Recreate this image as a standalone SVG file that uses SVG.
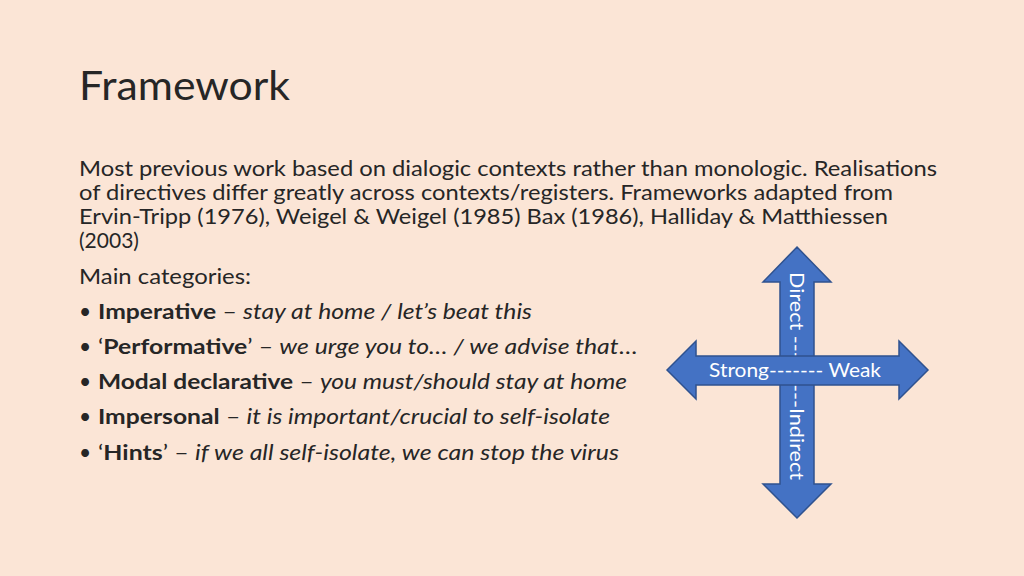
<svg xmlns="http://www.w3.org/2000/svg" width="1024" height="576" viewBox="0 0 1024 576">
<style>
text{font-family:Lato,"Open Sans",sans-serif;fill:#262626}
.b{font-size:21px}
.w{fill:#fff;font-size:19px}
.ar{fill:#4472c4;stroke:#2f528f;stroke-width:1.5}
</style>
<rect width="1024" height="576" fill="#fbe5d6"/>
<text x="79" y="100" font-size="40" fill="#404040" textLength="211" lengthAdjust="spacingAndGlyphs">Framework</text>
<g class="b">
<text x="79" y="176" class="b" textLength="858" lengthAdjust="spacingAndGlyphs">Most previous work based on dialogic contexts rather than monologic. Realisations</text>
<text x="79" y="200" class="b" textLength="814" lengthAdjust="spacingAndGlyphs">of directives differ greatly across contexts/registers. Frameworks adapted from</text>
<text x="79" y="224" class="b" textLength="809" lengthAdjust="spacingAndGlyphs">Ervin-Tripp (1976), Weigel &amp; Weigel (1985) Bax (1986), Halliday &amp; Matthiessen</text>
<text x="79" y="248" class="b">(2003)</text>
<text x="79" y="284" class="b" textLength="172" lengthAdjust="spacingAndGlyphs">Main categories:</text>
<text x="79" y="319" class="b">•</text>
<text x="98" y="319" class="b" textLength="434" lengthAdjust="spacingAndGlyphs"><tspan font-weight="bold">Imperative</tspan> – <tspan font-style="italic">stay at home / let’s beat this</tspan></text>
<text x="79" y="354" class="b">•</text>
<text x="98" y="354" class="b" textLength="539" lengthAdjust="spacingAndGlyphs">‘<tspan font-weight="bold">Performative</tspan>’ – <tspan font-style="italic">we urge you to… / we advise that</tspan>…</text>
<text x="79" y="389" class="b">•</text>
<text x="98" y="389" class="b" textLength="529" lengthAdjust="spacingAndGlyphs"><tspan font-weight="bold">Modal declarative</tspan> – <tspan font-style="italic">you must/should stay at home</tspan></text>
<text x="79" y="424" class="b">•</text>
<text x="98" y="424" class="b" textLength="512" lengthAdjust="spacingAndGlyphs"><tspan font-weight="bold">Impersonal</tspan> – <tspan font-style="italic">it is important/crucial to self-isolate</tspan></text>
<text x="79" y="460" class="b">•</text>
<text x="98" y="460" class="b" textLength="521" lengthAdjust="spacingAndGlyphs">‘<tspan font-weight="bold">Hints</tspan>’ – <tspan font-style="italic">if we all self-isolate, we can stop the virus</tspan></text>
</g>
<g id="vertical">
<path class="ar" d="M797,247 L831,282 L814,282 L814,484 L831,484 L797,518 L763,484 L780,484 L780,282 L763,282 Z"/>
<text class="w" transform="translate(790,376) rotate(90)" text-anchor="middle" textLength="208" lengthAdjust="spacingAndGlyphs">Direct ---------Indirect</text>
</g>
<g id="horizontal">
<path class="ar" d="M667,370 L696,341 L696,356 L899,356 L899,341 L928,370 L899,399 L899,385 L696,385 L696,399 Z"/>
<text class="w" x="795" y="377" text-anchor="middle" textLength="172" lengthAdjust="spacingAndGlyphs">Strong------- Weak</text>
</g>
</svg>
